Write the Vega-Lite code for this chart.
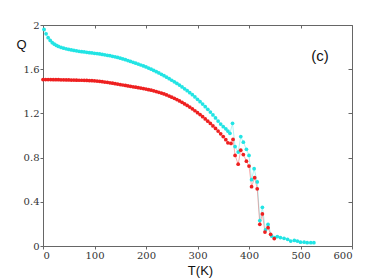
{
  "$schema": "https://vega.github.io/schema/vega-lite/v6.json",
  "width": 309,
  "height": 221,
  "autosize": "none",
  "padding": {"left": 43, "top": 25, "right": 30, "bottom": 32},
  "background": "white",
  "config": {
    "view": {"stroke": "#666", "strokeWidth": 1},
    "axis": {"grid": false, "domainColor": "#666", "tickColor": "#666", "labelFont": "DejaVu Serif", "labelFontSize": 10, "labelColor": "#333", "titleFont": "Liberation Sans", "titleFontWeight": "normal", "titleColor": "#111", "titleFontSize": 13}
  },
  "datasets": {
    "pts": [
      {"T":2,"Q":1.96,"s":"c"},{"T":6,"Q":1.92,"s":"c"},{"T":10,"Q":1.885,"s":"c"},{"T":14,"Q":1.86,"s":"c"},{"T":18,"Q":1.84,"s":"c"},{"T":22,"Q":1.826,"s":"c"},{"T":26,"Q":1.815,"s":"c"},{"T":30,"Q":1.806,"s":"c"},{"T":35,"Q":1.797,"s":"c"},{"T":40,"Q":1.79,"s":"c"},{"T":45,"Q":1.784,"s":"c"},{"T":50,"Q":1.779,"s":"c"},{"T":55,"Q":1.774,"s":"c"},{"T":60,"Q":1.77,"s":"c"},{"T":65,"Q":1.766,"s":"c"},{"T":70,"Q":1.762,"s":"c"},{"T":75,"Q":1.759,"s":"c"},{"T":80,"Q":1.756,"s":"c"},{"T":85,"Q":1.753,"s":"c"},{"T":90,"Q":1.75,"s":"c"},{"T":95,"Q":1.747,"s":"c"},{"T":100,"Q":1.744,"s":"c"},{"T":105,"Q":1.741,"s":"c"},{"T":110,"Q":1.738,"s":"c"},{"T":115,"Q":1.734,"s":"c"},{"T":120,"Q":1.73,"s":"c"},{"T":125,"Q":1.726,"s":"c"},{"T":130,"Q":1.722,"s":"c"},{"T":135,"Q":1.717,"s":"c"},{"T":140,"Q":1.712,"s":"c"},{"T":145,"Q":1.706,"s":"c"},{"T":150,"Q":1.7,"s":"c"},{"T":155,"Q":1.693,"s":"c"},{"T":160,"Q":1.686,"s":"c"},{"T":165,"Q":1.678,"s":"c"},{"T":170,"Q":1.67,"s":"c"},{"T":175,"Q":1.662,"s":"c"},{"T":180,"Q":1.654,"s":"c"},{"T":185,"Q":1.646,"s":"c"},{"T":190,"Q":1.638,"s":"c"},{"T":195,"Q":1.629,"s":"c"},{"T":200,"Q":1.62,"s":"c"},{"T":205,"Q":1.61,"s":"c"},{"T":210,"Q":1.6,"s":"c"},{"T":215,"Q":1.589,"s":"c"},{"T":220,"Q":1.578,"s":"c"},{"T":225,"Q":1.566,"s":"c"},{"T":230,"Q":1.554,"s":"c"},{"T":235,"Q":1.541,"s":"c"},{"T":240,"Q":1.528,"s":"c"},{"T":245,"Q":1.514,"s":"c"},{"T":250,"Q":1.5,"s":"c"},{"T":255,"Q":1.486,"s":"c"},{"T":260,"Q":1.471,"s":"c"},{"T":265,"Q":1.456,"s":"c"},{"T":270,"Q":1.44,"s":"c"},{"T":275,"Q":1.423,"s":"c"},{"T":280,"Q":1.406,"s":"c"},{"T":285,"Q":1.388,"s":"c"},{"T":290,"Q":1.369,"s":"c"},{"T":295,"Q":1.349,"s":"c"},{"T":300,"Q":1.328,"s":"c"},{"T":305,"Q":1.306,"s":"c"},{"T":310,"Q":1.284,"s":"c"},{"T":315,"Q":1.261,"s":"c"},{"T":320,"Q":1.237,"s":"c"},{"T":325,"Q":1.212,"s":"c"},{"T":330,"Q":1.186,"s":"c"},{"T":335,"Q":1.159,"s":"c"},{"T":340,"Q":1.131,"s":"c"},{"T":345,"Q":1.104,"s":"c"},{"T":350,"Q":1.08,"s":"c"},{"T":355,"Q":1.06,"s":"c"},{"T":359,"Q":1.04,"s":"c"},{"T":363,"Q":1.02,"s":"c"},{"T":368,"Q":1.11,"s":"c"},{"T":373,"Q":0.9,"s":"c"},{"T":379,"Q":0.85,"s":"c"},{"T":384,"Q":0.99,"s":"c"},{"T":389,"Q":0.94,"s":"c"},{"T":395,"Q":0.875,"s":"c"},{"T":400,"Q":0.82,"s":"c"},{"T":405,"Q":0.6,"s":"c"},{"T":410,"Q":0.7,"s":"c"},{"T":416,"Q":0.58,"s":"c"},{"T":421,"Q":0.23,"s":"c"},{"T":426,"Q":0.35,"s":"c"},{"T":432,"Q":0.145,"s":"c"},{"T":437,"Q":0.195,"s":"c"},{"T":444,"Q":0.09,"s":"c"},{"T":450,"Q":0.076,"s":"c"},{"T":455,"Q":0.085,"s":"c"},{"T":461,"Q":0.076,"s":"c"},{"T":468,"Q":0.07,"s":"c"},{"T":475,"Q":0.06,"s":"c"},{"T":481,"Q":0.045,"s":"c"},{"T":488,"Q":0.05,"s":"c"},{"T":494,"Q":0.045,"s":"c"},{"T":500,"Q":0.035,"s":"c"},{"T":507,"Q":0.035,"s":"c"},{"T":513,"Q":0.03,"s":"c"},{"T":520,"Q":0.03,"s":"c"},{"T":526,"Q":0.03,"s":"c"},
      {"T":0,"Q":1.506,"s":"r"},{"T":5,"Q":1.506,"s":"r"},{"T":10,"Q":1.506,"s":"r"},{"T":15,"Q":1.506,"s":"r"},{"T":20,"Q":1.505,"s":"r"},{"T":25,"Q":1.505,"s":"r"},{"T":30,"Q":1.505,"s":"r"},{"T":35,"Q":1.504,"s":"r"},{"T":40,"Q":1.504,"s":"r"},{"T":45,"Q":1.503,"s":"r"},{"T":50,"Q":1.503,"s":"r"},{"T":55,"Q":1.502,"s":"r"},{"T":60,"Q":1.502,"s":"r"},{"T":65,"Q":1.501,"s":"r"},{"T":70,"Q":1.5,"s":"r"},{"T":75,"Q":1.5,"s":"r"},{"T":80,"Q":1.499,"s":"r"},{"T":85,"Q":1.498,"s":"r"},{"T":90,"Q":1.497,"s":"r"},{"T":95,"Q":1.496,"s":"r"},{"T":100,"Q":1.495,"s":"r"},{"T":105,"Q":1.493,"s":"r"},{"T":110,"Q":1.49,"s":"r"},{"T":115,"Q":1.487,"s":"r"},{"T":120,"Q":1.484,"s":"r"},{"T":125,"Q":1.481,"s":"r"},{"T":130,"Q":1.477,"s":"r"},{"T":135,"Q":1.473,"s":"r"},{"T":140,"Q":1.469,"s":"r"},{"T":145,"Q":1.465,"s":"r"},{"T":150,"Q":1.461,"s":"r"},{"T":155,"Q":1.457,"s":"r"},{"T":160,"Q":1.453,"s":"r"},{"T":165,"Q":1.449,"s":"r"},{"T":170,"Q":1.445,"s":"r"},{"T":175,"Q":1.441,"s":"r"},{"T":180,"Q":1.437,"s":"r"},{"T":185,"Q":1.433,"s":"r"},{"T":190,"Q":1.429,"s":"r"},{"T":195,"Q":1.425,"s":"r"},{"T":200,"Q":1.42,"s":"r"},{"T":205,"Q":1.415,"s":"r"},{"T":210,"Q":1.41,"s":"r"},{"T":215,"Q":1.404,"s":"r"},{"T":220,"Q":1.398,"s":"r"},{"T":225,"Q":1.391,"s":"r"},{"T":230,"Q":1.384,"s":"r"},{"T":235,"Q":1.376,"s":"r"},{"T":240,"Q":1.367,"s":"r"},{"T":245,"Q":1.357,"s":"r"},{"T":250,"Q":1.347,"s":"r"},{"T":255,"Q":1.336,"s":"r"},{"T":260,"Q":1.325,"s":"r"},{"T":265,"Q":1.313,"s":"r"},{"T":270,"Q":1.3,"s":"r"},{"T":275,"Q":1.286,"s":"r"},{"T":280,"Q":1.272,"s":"r"},{"T":285,"Q":1.257,"s":"r"},{"T":290,"Q":1.241,"s":"r"},{"T":295,"Q":1.224,"s":"r"},{"T":300,"Q":1.207,"s":"r"},{"T":305,"Q":1.189,"s":"r"},{"T":310,"Q":1.17,"s":"r"},{"T":315,"Q":1.15,"s":"r"},{"T":320,"Q":1.13,"s":"r"},{"T":325,"Q":1.109,"s":"r"},{"T":330,"Q":1.087,"s":"r"},{"T":335,"Q":1.064,"s":"r"},{"T":340,"Q":1.04,"s":"r"},{"T":345,"Q":1.015,"s":"r"},{"T":350,"Q":0.99,"s":"r"},{"T":355,"Q":0.962,"s":"r"},{"T":359,"Q":0.934,"s":"r"},{"T":365,"Q":0.928,"s":"r"},{"T":369,"Q":0.964,"s":"r"},{"T":373,"Q":0.82,"s":"r"},{"T":379,"Q":0.74,"s":"r"},{"T":384,"Q":0.867,"s":"r"},{"T":389,"Q":0.828,"s":"r"},{"T":395,"Q":0.768,"s":"r"},{"T":400,"Q":0.723,"s":"r"},{"T":405,"Q":0.537,"s":"r"},{"T":411,"Q":0.618,"s":"r"},{"T":416,"Q":0.518,"s":"r"},{"T":421,"Q":0.196,"s":"r"},{"T":426,"Q":0.29,"s":"r"},{"T":431,"Q":0.126,"s":"r"},{"T":437,"Q":0.166,"s":"r"},{"T":442,"Q":0.106,"s":"r"},{"T":449,"Q":0.067,"s":"r"}
    ]
  },
  "resolve": {"axis": {"x": "independent", "y": "independent"}},
  "layer": [
    {
      "data": {"name": "pts"},
      "mark": {"type": "line", "strokeWidth": 0.6, "opacity": 0.6},
      "encoding": {
        "x": {"field": "T", "type": "quantitative", "scale": {"domain": [0, 600], "nice": false}, "axis": {"orient": "bottom", "values": [0,100,200,300,400,500,600], "title": "T(K)", "labelFont": "DejaVu Serif", "tickSize": 3, "labelPadding": 1, "titleAnchor": "start", "titleAlign": "center", "titleX": 157, "titleY": 28, "titleBaseline": "alphabetic"}},
        "y": {"field": "Q", "type": "quantitative", "scale": {"domain": [0, 2], "nice": false}, "axis": {"orient": "left", "values": [0,0.4,0.8,1.2,1.6,2], "format": "~g", "title": "Q", "labelFont": "DejaVu Serif", "tickSize": 3, "labelPadding": 1, "titleAngle": 0, "titleAlign": "center", "titleX": -22, "titleY": 23, "titleBaseline": "alphabetic"}},
        "color": {"field": "s", "type": "nominal", "scale": {"domain": ["c", "r"], "range": ["#22e4e4", "#ee2020"]}, "legend": null}
      }
    },
    {
      "data": {"name": "pts"},
      "mark": {"type": "point", "filled": true, "shape": "circle", "size": 14, "opacity": 1},
      "encoding": {
        "x": {"field": "T", "type": "quantitative", "axis": {"orient": "top", "values": [0,100,200,300,400,500,600], "labels": false, "title": null, "tickSize": -3, "domain": false}},
        "y": {"field": "Q", "type": "quantitative", "axis": {"orient": "right", "values": [0,0.4,0.8,1.2,1.6,2], "labels": false, "title": null, "tickSize": -4, "domain": false}},
        "color": {"field": "s", "type": "nominal", "legend": null}
      }
    },
    {
      "data": {"values": [{"lab": "(c)", "T": 538, "Q": 1.67}]},
      "mark": {"type": "text", "font": "Liberation Sans", "fontSize": 15, "align": "center", "baseline": "alphabetic", "color": "#111"},
      "encoding": {
        "x": {"field": "T", "type": "quantitative", "axis": null},
        "y": {"field": "Q", "type": "quantitative", "axis": null},
        "text": {"field": "lab"}
      }
    }
  ]
}
